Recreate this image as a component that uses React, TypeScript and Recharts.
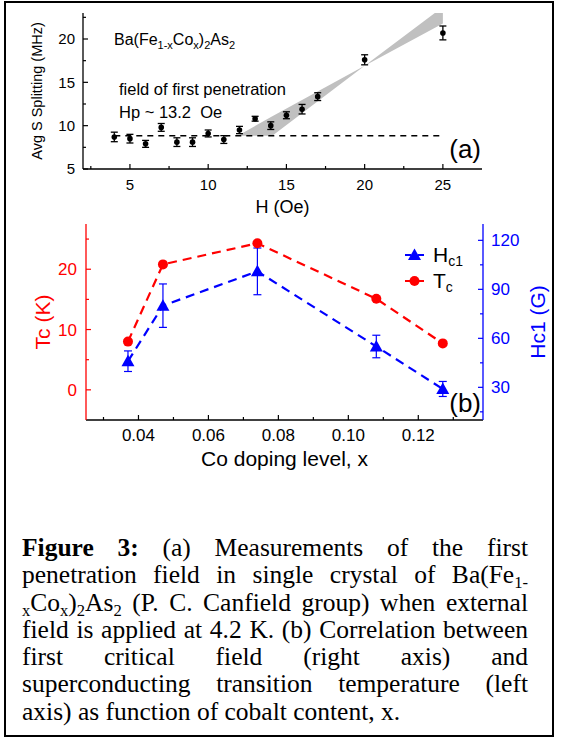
import React from "react";
import { ComposedChart, Scatter, Line, Area, XAxis, YAxis, ErrorBar } from "recharts";

// (a) avg splitting vs applied field
const fieldH = [4, 5, 6, 7, 8, 9, 10, 11, 12, 13, 14, 15, 16, 17, 20, 25];
const splitMHz = [8.7, 8.5, 7.9, 9.8, 8.1, 8.1, 9.1, 8.4, 9.5, 10.8, 10.0, 11.2, 11.9, 13.35, 17.6, 20.7];
const splitErr = [0.55, 0.5, 0.4, 0.45, 0.5, 0.5, 0.4, 0.45, 0.42, 0.28, 0.44, 0.4, 0.55, 0.45, 0.58, 0.8];
const baseH = [4, 25];
const baseMHz = [8.85, 8.85];
const bandH = [11.9, 14.1, 20, 25];
const bandLow = [8.85, 8.85, 16.9, 21.8];
const bandHigh = [8.85, 11.1, 16.9, 23.7];

// (b) Tc and Hc1 vs Co doping
const coLevel = [0.037, 0.047, 0.074, 0.108, 0.127];
const tcK = [8.0, 20.8, 24.3, 15.1, 7.7];
const hc1G = [46, 80, 101, 55, 29];
const hc1Err = [6.3, 13.3, 14.3, 6.9, 4.6];

const aXMajor = [5, 10, 15, 20, 25];
const aXMinor = [2.5, 7.5, 12.5, 17.5, 22.5];
const aYMajor = [5, 10, 15, 20];
const aYMinor = [7.5, 12.5, 17.5, 22.5];
const bXMajor = [0.04, 0.06, 0.08, 0.1, 0.12];
const bXMinor = [0.03, 0.05, 0.07, 0.09, 0.11, 0.13];
const bTcMajor = [0, 10, 20];
const bTcMinor = [5, 15, 25];
const bHcMajor = [30, 60, 90, 120];
const bHcMinor = [15, 45, 75, 105];

const RED = "#ff0000";
const BLUE = "#0000ff";

const pointsA = fieldH.map((h, i) => ({ h, s: splitMHz[i], err: splitErr[i] }));
const baseA = baseH.map((h, i) => ({ h, base: baseMHz[i] }));
const bandA = bandH.map((h, i) => ({ h, band: [bandLow[i], bandHigh[i]] }));
const dataB = coLevel.map((x, i) => ({ x, tc: tcK[i], hc: hc1G[i], hcErr: hc1Err[i] }));

// inward ticks, short minor ones without labels
const makeTick =
  (side: "left" | "right" | "bottom", majors: number[], color: string, fontSize: number, gap: number, fmt: (v: number) => string) =>
  (props: any) => {
    const { x, y, payload } = props;
    const v = payload.value;
    const major = majors.some((m) => Math.abs(m - v) < 1e-9);
    const len = major ? 5 : 3;
    if (side === "bottom") {
      return (
        <g>
          <line x1={x} y1={y} x2={x} y2={y - len} stroke={color} strokeWidth={1.2} />
          {major && (
            <text x={x} y={y + gap} dy="0.71em" textAnchor="middle" fontSize={fontSize} fill={color}>
              {fmt(v)}
            </text>
          )}
        </g>
      );
    }
    const dir = side === "left" ? 1 : -1;
    return (
      <g>
        <line x1={x} y1={y} x2={x + dir * len} y2={y} stroke={color} strokeWidth={1.2} />
        {major && (
          <text x={x - dir * gap} y={y} dy="0.355em" textAnchor={side === "left" ? "end" : "start"} fontSize={fontSize} fill={color}>
            {fmt(v)}
          </text>
        )}
      </g>
    );
  };

const intFmt = (v: number) => String(v);
const decFmt = (v: number) => v.toFixed(2);

const blackDot = (p: any) => <circle key={p.index} cx={p.cx} cy={p.cy} r={2.8} fill="#000" />;
const redDot = (p: any) => <circle key={p.index} cx={p.cx} cy={p.cy} r={5} fill={RED} />;
const blueTri = (p: any) => (
  <path key={p.index} d={`M${p.cx},${p.cy - 6.5}L${p.cx + 6.5},${p.cy + 5}L${p.cx - 6.5},${p.cy + 5}Z`} fill={BLUE} />
);

const sub = { fontSize: "0.65em", lineHeight: 0, verticalAlign: "-0.3em" } as React.CSSProperties;
const capLine = { height: 27.3, textAlign: "justify", textAlignLast: "justify", whiteSpace: "nowrap" } as React.CSSProperties;

export default function App() {
  return (
    <div
      style={{
        position: "absolute",
        left: 0,
        top: 0,
        width: 561,
        height: 740,
        background: "#fff",
        fontFamily: "'Liberation Sans', Arial, sans-serif",
      }}
    >
      <div
        style={{
          position: "absolute",
          left: 4,
          top: 1,
          width: 550,
          height: 736,
          border: "2px solid #000",
          boxSizing: "border-box",
        }}
      />

      <div style={{ position: "absolute", left: 0, top: 0 }}>
        <ComposedChart width={561} height={225} margin={{ top: 13, right: 79, bottom: 0, left: 0 }}>
          <XAxis
            dataKey="h"
            type="number"
            domain={[2, 27.5]}
            allowDataOverflow
            ticks={[...aXMajor, ...aXMinor]}
            interval={0}
            tickSize={0}
            tickMargin={0}
            tickLine={false}
            tick={makeTick("bottom", aXMajor, "#000", 15, 10, intFmt)}
            axisLine={{ stroke: "#000", strokeWidth: 1.3 }}
            height={56}
            label={{ value: "H (Oe)", position: "insideBottom", offset: 12, fontSize: 18, fill: "#000" }}
          />
          <XAxis xAxisId="top" orientation="top" type="number" domain={[2, 27.5]} height={0} tick={false} tickLine={false} axisLine={{ stroke: "#000", strokeWidth: 1.3 }} />
          <YAxis
            type="number"
            domain={[5, 23]}
            allowDataOverflow
            ticks={[...aYMajor, ...aYMinor]}
            interval={0}
            tickSize={0}
            tickMargin={0}
            tickLine={false}
            tick={makeTick("left", aYMajor, "#000", 15, 8, intFmt)}
            axisLine={{ stroke: "#000", strokeWidth: 1.3 }}
            width={83}
            label={{
              value: "Avg S Splitting (MHz)",
              angle: -90,
              position: "insideLeft",
              offset: 37,
              fontSize: 14.5,
              fill: "#000",
              style: { textAnchor: "middle" },
            }}
          />
          <YAxis yAxisId="fr" orientation="right" domain={[0, 1]} width={0} tick={false} tickLine={false} axisLine={{ stroke: "#000", strokeWidth: 1.3 }} />
          <Area data={bandA} dataKey="band" type="linear" fill="#c0c0c0" fillOpacity={1} stroke="none" isAnimationActive={false} />
          <Line data={baseA} dataKey="base" stroke="#000" strokeWidth={1.5} strokeDasharray="6 5" dot={false} isAnimationActive={false} />
          <Scatter data={pointsA} dataKey="s" shape={blackDot} isAnimationActive={false}>
            <ErrorBar dataKey="err" direction="y" width={3.5} stroke="#000" strokeWidth={1.3} />
          </Scatter>
        </ComposedChart>
      </div>

      <div style={{ position: "absolute", left: 0, top: 200 }}>
        <ComposedChart width={561} height={275} data={dataB} margin={{ top: 24, right: 0, bottom: 0, left: 0 }}>
          <XAxis
            dataKey="x"
            type="number"
            domain={[0.025, 0.1385]}
            allowDataOverflow
            ticks={[...bXMajor, ...bXMinor]}
            interval={0}
            tickSize={0}
            tickMargin={0}
            tickLine={false}
            tick={makeTick("bottom", bXMajor, "#000", 17, 9, decFmt)}
            axisLine={{ stroke: "#000", strokeWidth: 1.3 }}
            height={55}
            label={{ value: "Co doping level, x", position: "insideBottom", offset: 9, fontSize: 21, fill: "#000" }}
          />
          <XAxis xAxisId="top" orientation="top" type="number" domain={[0.025, 0.1385]} height={0} tick={false} tickLine={false} axisLine={{ stroke: "#000", strokeWidth: 1.3 }} />
          <YAxis
            yAxisId="tc"
            type="number"
            domain={[-5, 27.5]}
            allowDataOverflow
            ticks={[...bTcMajor, ...bTcMinor]}
            interval={0}
            tickSize={0}
            tickMargin={0}
            tickLine={false}
            tick={makeTick("left", bTcMajor, RED, 17, 9, intFmt)}
            axisLine={{ stroke: RED, strokeWidth: 1.3 }}
            width={86}
            label={{ value: "Tc (K)", angle: -90, position: "insideLeft", offset: 43, fontSize: 21, fill: RED, style: { textAnchor: "middle" } }}
          />
          <YAxis
            yAxisId="hc"
            orientation="right"
            type="number"
            domain={[10, 130]}
            allowDataOverflow
            ticks={[...bHcMajor, ...bHcMinor]}
            interval={0}
            tickSize={0}
            tickMargin={0}
            tickLine={false}
            tick={makeTick("right", bHcMajor, BLUE, 17, 8, intFmt)}
            axisLine={{ stroke: BLUE, strokeWidth: 1.3 }}
            width={78}
            label={{ value: "Hc1 (G)", angle: -90, position: "insideRight", offset: 23, fontSize: 21, fill: BLUE, style: { textAnchor: "middle" } }}
          />
          <Line yAxisId="hc" dataKey="hc" stroke={BLUE} strokeWidth={2.2} strokeDasharray="9 6" dot={blueTri} isAnimationActive={false}>
            <ErrorBar dataKey="hcErr" direction="y" width={4} stroke={BLUE} strokeWidth={1.2} />
          </Line>
          <Line yAxisId="tc" dataKey="tc" stroke={RED} strokeWidth={2.2} strokeDasharray="9 6" dot={redDot} isAnimationActive={false} />
        </ComposedChart>
      </div>

      <svg width={561} height={740} style={{ position: "absolute", left: 0, top: 0, pointerEvents: "none" }}>
        <text x={114} y={45} fontSize={16}>
          Ba(Fe
          <tspan fontSize={11} dy={4}>1-x</tspan>
          <tspan dy={-4}>Co</tspan>
          <tspan fontSize={11} dy={4}>x</tspan>
          <tspan dy={-4}>)</tspan>
          <tspan fontSize={11} dy={4}>2</tspan>
          <tspan dy={-4}>As</tspan>
          <tspan fontSize={11} dy={4}>2</tspan>
        </text>
        <text x={119} y={95} fontSize={16.5}>field of first penetration</text>
        <text x={119} y={117.5} fontSize={16.5} style={{ whiteSpace: "pre" }}>
          Hp ~ 13.2  Oe
        </text>
        <text x={481} y={158} fontSize={26} textAnchor="end">(a)</text>
        <text x={481} y={412} fontSize={26} textAnchor="end">(b)</text>

        <line x1={405} y1={255} x2={424} y2={255} stroke={BLUE} strokeWidth={2.2} strokeDasharray="6 7" />
        <path d="M414.5,248.5L421,260L408,260Z" fill={BLUE} />
        <text x={433} y={262} fontSize={21}>
          H<tspan fontSize={14} dy={4}>c1</tspan>
        </text>
        <line x1={405} y1={281} x2={424} y2={281} stroke={RED} strokeWidth={2.2} strokeDasharray="6 7" />
        <circle cx={414.5} cy={281} r={5} fill={RED} />
        <text x={433} y={288} fontSize={21}>
          T<tspan fontSize={14} dy={4}>c</tspan>
        </text>
      </svg>

      <div
        style={{
          position: "absolute",
          left: 22,
          top: 534,
          width: 506,
          fontFamily: "'Liberation Serif', 'Times New Roman', serif",
          fontSize: 25.5,
          lineHeight: "27.3px",
          color: "#000",
        }}
      >
        <div style={capLine}>
          <b>Figure 3:</b> (a) Measurements of the first
        </div>
        <div style={capLine}>
          penetration field in single crystal of Ba(Fe<span style={sub}>1-</span>
        </div>
        <div style={capLine}>
          <span style={sub}>x</span>Co<span style={sub}>x</span>)<span style={sub}>2</span>As<span style={sub}>2</span> (P. C. Canfield group) when external
        </div>
        <div style={capLine}>field is applied at 4.2 K. (b) Correlation between</div>
        <div style={capLine}>first critical field (right axis) and</div>
        <div style={capLine}>superconducting transition temperature (left</div>
        <div style={{ height: 27.3, whiteSpace: "nowrap" }}>axis) as function of cobalt content, x.</div>
      </div>
    </div>
  );
}
